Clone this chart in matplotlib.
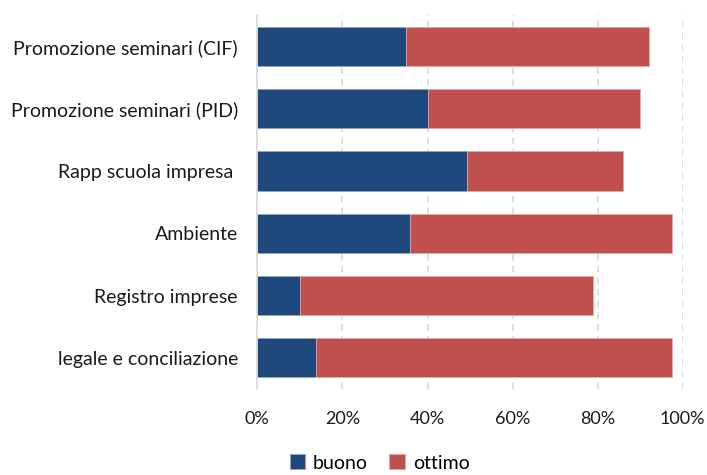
import numpy as np
import matplotlib
matplotlib.use("Agg")
import matplotlib.pyplot as plt
from matplotlib.ticker import PercentFormatter

plt.rcParams['font.family'] = ['Lato', 'DejaVu Sans']

# data (percent)
categorie = ["Promozione seminari (CIF)", "Promozione seminari (PID)",
             "Rapp scuola impresa ", "Ambiente", "Registro imprese",
             "legale e conciliazione"]
buono = [35.0, 40.0, 49.3, 36.0, 10.0, 13.8]
ottimo = [57.0, 50.0, 36.7, 61.4, 68.9, 83.6]
xticks = [0, 20, 40, 60, 80, 100]

col_buono = "#1F497D"
col_ottimo = "#C0504D"

fig = plt.figure(figsize=(7.07, 4.75), dpi=100)
ax = fig.add_axes([0.364, 0.181, 0.6017, 0.787])

y = np.arange(len(categorie))[::-1]
ax.barh(y, buono, height=0.63, color=col_buono, edgecolor="#8FA4BE",
        linewidth=0.6, label="buono")
ax.barh(y, ottimo, left=buono, height=0.63, color=col_ottimo,
        edgecolor="#DFA7A6", linewidth=0.6, label="ottimo")

ax.set_ylim(-0.5, len(categorie) - 0.5)
ax.set_xlim(0, 100)
ax.set_yticks(y)
ax.set_yticklabels(categorie, fontsize=14, color="#1a1a1a")
ax.set_xticks(xticks)
ax.xaxis.set_major_formatter(PercentFormatter(decimals=0))
ax.tick_params(axis='x', length=0, pad=16, labelsize=13, labelcolor="#1a1a1a")
ax.tick_params(axis='y', length=0, pad=14)

ax.grid(axis='x', color="#D9D9D9", linestyle=(0, (4, 3)), linewidth=1.2)
ax.set_axisbelow(True)
for s in ['top', 'right', 'bottom']:
    ax.spines[s].set_visible(False)
ax.spines['left'].set_color("#D9D9D9")
ax.spines['left'].set_linewidth(1.2)

# legend sits at the bottom edge, as in the reference
fig.legend(loc='center', bbox_to_anchor=(0.537, 1 - 463 / 475), ncol=2,
           frameon=False, fontsize=14, handlelength=0.8, handleheight=0.8,
           handletextpad=0.4, columnspacing=1.1, borderaxespad=0)

fig.savefig("out.png", dpi=100)
